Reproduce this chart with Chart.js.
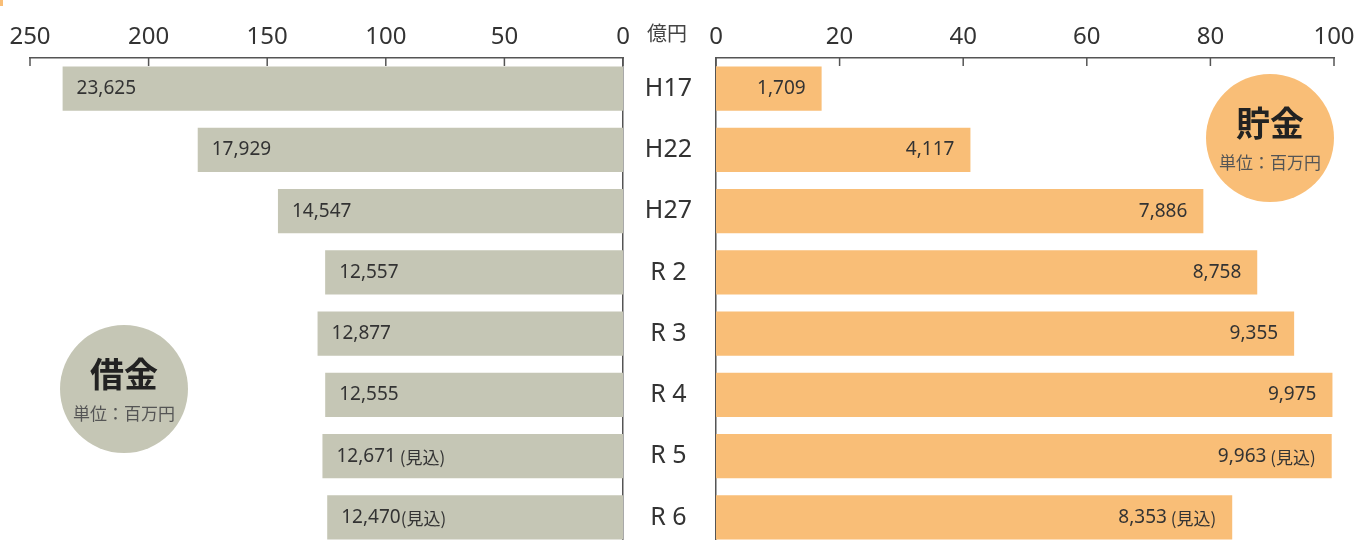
<!DOCTYPE html>
<html>
<head>
<meta charset="utf-8">
<script src="https://cdn.jsdelivr.net/npm/chart.js@4.4.1/dist/chart.umd.min.js"></script>
<style>
  html, body { margin: 0; padding: 0; width: 1355px; height: 540px; overflow: hidden; background: #fff; }
  #wrap { position: relative; width: 1355px; height: 540px; overflow: hidden; }
  .box { position: absolute; top: 0; height: 550px; }
  #leftBox { left: 0; width: 640px; }
  #rightBox { left: 623px; width: 732px; }
  .unit { position: absolute; left: 647px; top: 21px; font: 20px 'Noto Sans CJK JP'; color: #444; line-height: 24px; }
  .corner { position: absolute; left: 0; top: 0; width: 3px; height: 6px; background: #F9BE77; }
  .badge { position: absolute; width: 128px; height: 128px; border-radius: 50%; font-family: 'Noto Sans CJK JP'; }
  .badge .t { position: absolute; left: 0; width: 128px; top: 30px; height: 36px; line-height: 36px; text-align: center; font-size: 34px; font-weight: bold; color: #222; }
  .badge .s { position: absolute; left: 0; width: 128px; top: 79px; height: 18px; line-height: 18px; text-align: center; font-size: 17px; color: #555; }
</style>
</head>
<body>
<div id="wrap">
  <div class="corner"></div>
  <div class="box" id="leftBox"><canvas id="debtChart"></canvas></div>
  <div class="box" id="rightBox"><canvas id="savingChart"></canvas></div>
  <div class="unit">億円</div>
  <div class="badge" style="left:60px; top:325px; background:#C5C6B5;"><div class="t">借金</div><div class="s">単位：百万円</div></div>
  <div class="badge" style="left:1206px; top:74px; background:#F9BE77;"><div class="t">貯金</div><div class="s">単位：百万円</div></div>
</div>
<script>
// 年度
const years = ["H17", "H22", "H27", "R 2", "R 3", "R 4", "R 5", "R 6"];
// 借金・貯金（億円）
const debt = [236.25, 179.29, 145.47, 125.57, 128.77, 125.55, 126.71, 124.70];
const savings = [17.09, 41.17, 78.86, 87.58, 93.55, 99.75, 99.63, 83.53];
// 見込の注記
const debtNotes = ["", "", "", "", "", "", " (見込)", "(見込)"];
const savingNotes = ["", "", "", "", "", "", " (見込)", " (見込)"];
// 目盛り
const debtTicks = [0, 50, 100, 150, 200, 250];
const savingTicks = [0, 20, 40, 60, 80, 100];

const lineColor = "#555";
const textColor = "#333";

// 軸線から下に出る目盛り
const tickMarks = {
    id: "tickMarks",
    afterDraw(chart) {
        const sx = chart.scales.x;
        const ctx = chart.ctx;
        const top = chart.chartArea.top;
        ctx.save();
        ctx.strokeStyle = lineColor;
        ctx.lineWidth = 1.5;
        sx.ticks.forEach(t => {
            const x = sx.getPixelForValue(t.value);
            ctx.beginPath();
            ctx.moveTo(x, top);
            ctx.lineTo(x, top + 8);
            ctx.stroke();
        });
        ctx.restore();
    }
};

// 棒の中の数値（百万円）
function valueLabels(side, values, notes) {
    return {
        id: "valueLabels",
        afterDatasetsDraw(chart) {
            const ctx = chart.ctx;
            const bars = chart.getDatasetMeta(0).data;
            ctx.save();
            ctx.textBaseline = "middle";
            ctx.textAlign = "left";
            ctx.fillStyle = textColor;
            bars.forEach((bar, i) => {
                const num = Math.round(values[i] * 100).toLocaleString("en-US");
                const note = notes[i];
                ctx.font = "19px 'Noto Sans'";
                const w1 = ctx.measureText(num).width;
                ctx.font = "17px 'Noto Sans CJK JP'";
                const w2 = ctx.measureText(note).width;
                let x = side === "left" ? bar.x + 14 : bar.x - 16 - w1 - w2;
                ctx.font = "19px 'Noto Sans'";
                ctx.fillText(num, x, bar.y);
                if (note) {
                    ctx.font = "17px 'Noto Sans CJK JP'";
                    ctx.fillText(note, x + w1, bar.y + 1);
                }
            });
            ctx.restore();
        }
    };
}

function topAxis(min, max, step, reverse, ticksList) {
    return {
        position: "top",
        reverse: reverse,
        min: min,
        max: max,
        ticks: { stepSize: step, color: textColor, font: { family: "Noto Sans", size: 24 }, padding: 6 },
        grid: { display: false, drawTicks: false },
        border: { display: true, color: lineColor, width: 1.5 },
        afterBuildTicks: s => { s.ticks = ticksList.map(v => ({ value: v })); },
        afterFit: s => { s.height = 58; s.paddingLeft = 0; s.paddingRight = 0; }
    };
}

function sideAxis(pos, showLabels, width) {
    return {
        position: pos,
        ticks: { display: showLabels, color: textColor, font: { family: "Noto Sans", size: 25 }, crossAlign: "center", padding: 24 },
        grid: { display: false, drawTicks: false },
        border: { display: true, color: lineColor, width: 1.5 },
        afterFit: s => { s.width = width; s.paddingTop = 0; s.paddingBottom = 0; }
    };
}

new Chart(document.getElementById("debtChart").getContext("2d"), {
    type: "bar",
    data: {
        labels: years,
        datasets: [{ data: debt, backgroundColor: "#C5C6B5", barPercentage: 0.72, categoryPercentage: 1 }]
    },
    options: {
        indexAxis: "y",
        responsive: true,
        maintainAspectRatio: false,
        animation: false,
        layout: { padding: { left: 30, right: 17, top: 0, bottom: 2 } },
        plugins: { legend: { display: false }, tooltip: { enabled: false } },
        scales: {
            x: topAxis(0, 250, 50, true, debtTicks),
            y: sideAxis("right", false, 0)
        }
    },
    plugins: [tickMarks, valueLabels("left", debt, debtNotes)]
});

new Chart(document.getElementById("savingChart").getContext("2d"), {
    type: "bar",
    data: {
        labels: years,
        datasets: [{ data: savings, backgroundColor: "#F9BE77", barPercentage: 0.72, categoryPercentage: 1 }]
    },
    options: {
        indexAxis: "y",
        responsive: true,
        maintainAspectRatio: false,
        animation: false,
        layout: { padding: { left: 0, right: 21, top: 0, bottom: 2 } },
        plugins: { legend: { display: false }, tooltip: { enabled: false } },
        scales: {
            x: topAxis(0, 100, 20, false, savingTicks),
            y: sideAxis("left", true, 93)
        }
    },
    plugins: [tickMarks, valueLabels("right", savings, savingNotes)]
});
</script>
</body>
</html>
